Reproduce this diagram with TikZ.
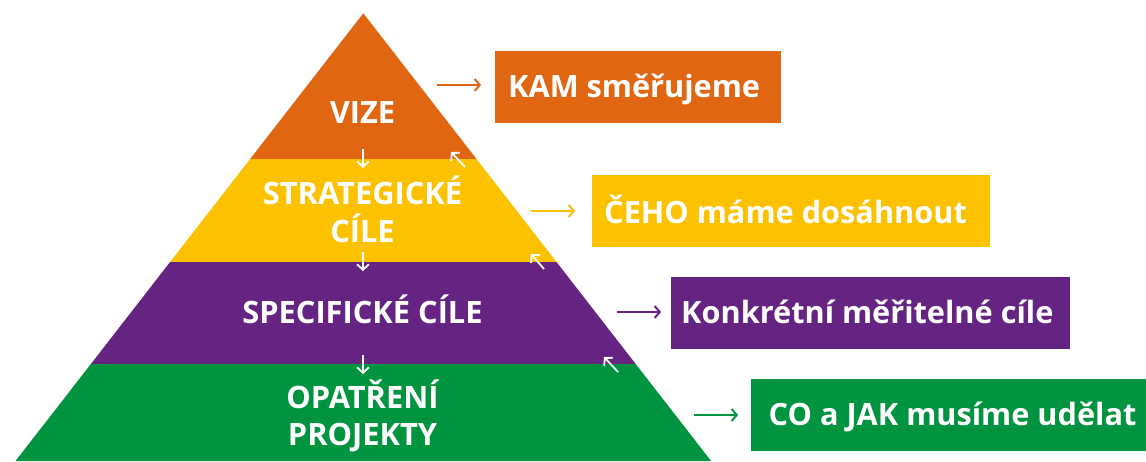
\documentclass[tikz,border=0pt]{standalone}
\usepackage{fontspec}
\setmainfont{Open Sans}
\usetikzlibrary{arrows.meta}
\definecolor{cOrange}{RGB}{224,102,17}
\definecolor{cYellow}{RGB}{252,194,0}
\definecolor{cPurple}{RGB}{102,36,130}
\definecolor{cGreen}{RGB}{0,148,64}
\begin{document}
\begin{tikzpicture}[x=1pt,y=-1pt,
  lvl/.style={text=white,font=\bfseries\fontsize{30.8}{37}\selectfont,anchor=base,inner sep=0pt},
  boxlabel/.style={text=white,font=\bfseries\fontsize{30.7}{37}\selectfont,anchor=base west,inner sep=0pt},
  goalbox/.style={anchor=north west,inner sep=0pt,draw=none},
  harr/.style={line width=2pt,-{Straight Barb[length=5pt,width=12pt]}},
  warr/.style={white,line width=1.8pt,-{Straight Barb[length=5.5pt,width=12pt]}}]
\useasboundingbox (0,0) rectangle (1146,461);
\fill[white] (0,0) rectangle (1146,461);
% pyramid bands
\fill[cOrange] (363.3,13.3) -- (476.5,159) -- (250.1,159) -- cycle;
\fill[cYellow] (250.1,159) -- (476.5,159) -- (556.5,262) -- (170.1,262) -- cycle;
\fill[cPurple] (170.1,262) -- (556.5,262) -- (635.7,364) -- (90.9,364) -- cycle;
\fill[cGreen] (90.9,364) -- (635.7,364) -- (711.1,461) -- (15.5,461) -- cycle;
% level labels
\node[lvl] (vize) at (362.5,123.3) {VIZE};
\node[lvl] (strat1) at (362.5,204) {STRATEGICKÉ};
\node[lvl] (strat2) at (362.5,242.7) {CÍLE};
\node[lvl] (spec) at (362.5,323.3) {SPECIFICKÉ CÍLE};
\node[lvl] (opat1) at (362.5,408.3) {OPATŘENÍ};
\node[lvl] (opat2) at (362.5,445) {PROJEKTY};
% goal boxes
\node[goalbox,fill=cOrange,minimum width=285.5pt,minimum height=71.3pt] (kam) at (495,51) {};
\node[goalbox,fill=cYellow,minimum width=398pt,minimum height=71.7pt] (ceho) at (592,175) {};
\node[goalbox,fill=cPurple,minimum width=399pt,minimum height=72.3pt] (konk) at (671,276.7) {};
\node[goalbox,fill=cGreen,minimum width=395pt,minimum height=71.7pt] (coak) at (751,379) {};
\node[boxlabel] (kamt) at (508,97.3) {KAM směřujeme};
\node[boxlabel] (cehot) at (604,223.3) {ČEHO máme dosáhnout};
\node[boxlabel] (konkt) at (681,323.3) {Konkrétní měřitelné cíle};
\node[boxlabel] (coakt) at (768.5,425) {CO a JAK musíme udělat};
% horizontal arrows
\coordinate (h1) at (437,85);
\coordinate (h2) at (531,211);
\coordinate (h3) at (617,312);
\coordinate (h4) at (694,415);
\draw[harr,cOrange,shorten >=14pt] (h1) -- (h1 -| kam.west);
\draw[harr,cYellow,shorten >=17pt] (h2) -- (h2 -| ceho.west);
\draw[harr,cPurple,shorten >=10pt] (h3) -- (h3 -| konk.west);
\draw[harr,cGreen,shorten >=13pt] (h4) -- (h4 -| coak.west);
% down arrows
\coordinate (d1s) at (363,149); \coordinate (d1e) at (363,168);
\coordinate (d2s) at (363,252); \coordinate (d2e) at (363,271);
\coordinate (d3s) at (363,355); \coordinate (d3e) at (363,374);
\draw[warr] (d1s) -- (d1e);
\draw[warr] (d2s) -- (d2e);
\draw[warr] (d3s) -- (d3e);
% up-left arrows
\coordinate (u1s) at (465,167); \coordinate (u1e) at (451,152);
\coordinate (u2s) at (544,269); \coordinate (u2e) at (531,254);
\coordinate (u3s) at (618,372); \coordinate (u3e) at (604,357);
\draw[warr] (u1s) -- (u1e);
\draw[warr] (u2s) -- (u2e);
\draw[warr] (u3s) -- (u3e);
\end{tikzpicture}
\end{document}
